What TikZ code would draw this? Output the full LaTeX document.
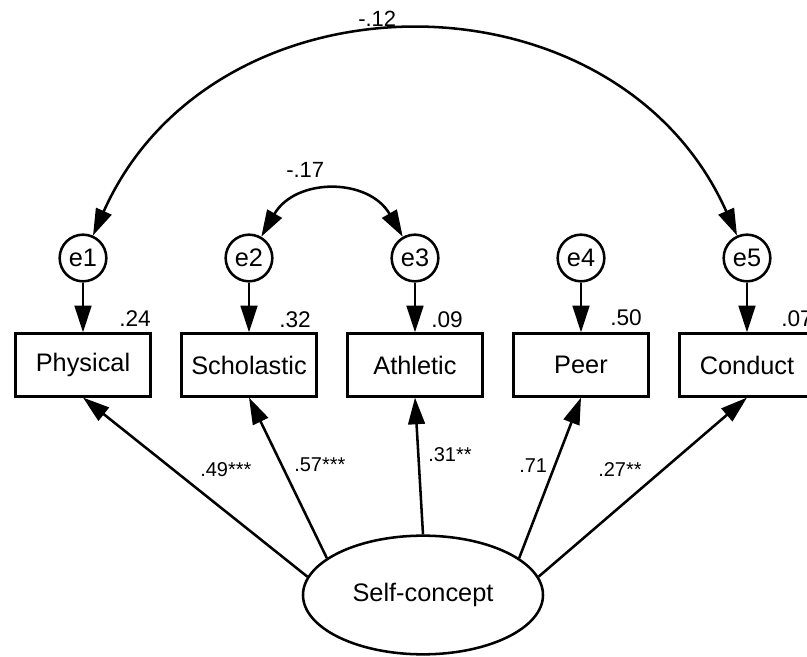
\documentclass[tikz,border=0pt]{standalone}
\usepackage{fontspec}
\setmainfont{Liberation Sans}
\usetikzlibrary{arrows.meta,shapes.geometric}
\begin{document}
\begin{tikzpicture}[x=0.75pt,y=0.75pt,line width=1.9pt,
  obs/.style={draw,rectangle,minimum width=101pt,minimum height=47pt,inner sep=0pt,font=\fontsize{19}{22}\selectfont},
  err/.style={draw,circle,minimum size=35pt,inner sep=0pt,font=\fontsize{19}{22}\selectfont},
  lat/.style={draw,ellipse,minimum width=180pt,minimum height=89pt,inner sep=0pt,font=\fontsize{19}{22}\selectfont},
  r2/.style={anchor=base west,inner sep=0pt,font=\fontsize{17}{20}\selectfont},
  coef/.style={anchor=base west,inner sep=0pt,font=\fontsize{15}{18}\selectfont},
  cov/.style={anchor=base west,inner sep=0pt,font=\fontsize{16.5}{19}\selectfont},
  arr/.style={-{Triangle[length=20pt,width=12.5pt]}},
  dbl/.style={{Triangle[length=20pt,width=12.5pt]}-{Triangle[length=20pt,width=12.5pt]}}]
\useasboundingbox (0,0) rectangle (807,657);
% observed variables
\node[obs] (phys) at (83,292) {Physical};
\node[obs] (schol) at (249,292) {Scholastic};
\node[obs] (ath) at (415,292) {Athletic};
\node[obs] (peer) at (581,292) {Peer};
\node[obs] (cond) at (747,292) {Conduct};
% errors
\node[err] (e1) at (83,399) {e1};
\node[err] (e2) at (249,399) {e2};
\node[err] (e3) at (415,399) {e3};
\node[err] (e4) at (581,399) {e4};
\node[err] (e5) at (747,399) {e5};
% latent
\node[lat] (sc) at (423,62) {Self-concept};
% error paths
\draw[arr] (e1) -- (phys);
\draw[arr] (e2) -- (schol);
\draw[arr] (e3) -- (ath);
\draw[arr] (e4) -- (peer);
\draw[arr] (e5) -- (cond);
% loadings
\draw[arr] (sc.171) -- (phys.south);
\draw[arr] (sc.159) -- (schol.south);
\draw[arr] (sc.90) -- (ath.south);
\draw[arr] (sc.21) -- (peer.south);
\draw[arr] (sc.9) -- (cond.south);
% covariances
\draw[dbl] (e1) to[out=66,in=114,looseness=1.18] (e5);
\draw[dbl] (e2) to[out=60,in=120,looseness=1.24] (e3);
% labels
\node[r2] (l1) at (118,330) {.24};
\node[r2] (l2) at (278,329) {.32};
\node[r2] (l3) at (430,329) {.09};
\node[r2] (l4) at (609,331) {.50};
\node[r2] (l5) at (780,330) {.07};
\node[coef] (c1) at (199,180) {.49***};
\node[coef] (c2) at (293,185) {.57***};
\node[coef] (c3) at (427,195) {.31**};
\node[coef] (c4) at (518,184) {.71};
\node[coef] (c5) at (597,180) {.27**};
\node[cov] (k1) at (357,630) {-.12};
\node[cov] (k2) at (285,479) {-.17};
\end{tikzpicture}
\end{document}
